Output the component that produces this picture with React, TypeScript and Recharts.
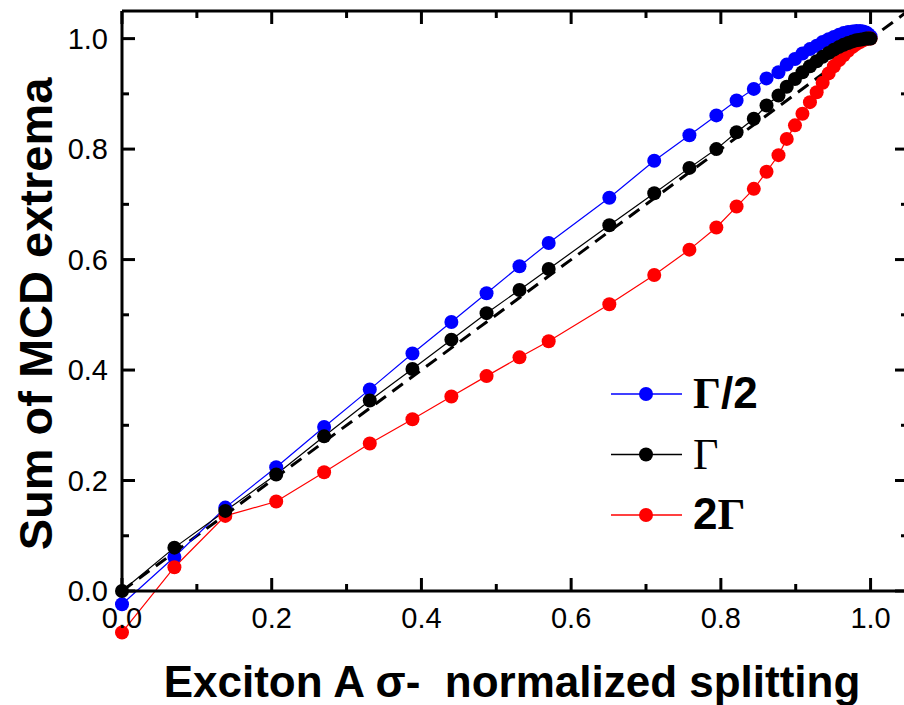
import { LineChart, Line, XAxis, YAxis, Legend } from "recharts";

// normalized splitting (shared by all three curves)
const xs = [
  0, 0.07, 0.138, 0.206, 0.27, 0.331, 0.388, 0.44, 0.487, 0.531, 0.57, 0.651,
  0.711, 0.758, 0.794, 0.821, 0.844, 0.861, 0.877, 0.888, 0.899, 0.909, 0.919,
  0.928, 0.936, 0.944, 0.951, 0.958, 0.964, 0.97, 0.976, 0.981, 0.986, 0.99,
  0.994, 0.997, 1.0,
];

const halfGamma = [
  -0.024, 0.0615, 0.151, 0.224, 0.297, 0.365, 0.43, 0.487, 0.539, 0.588, 0.63,
  0.712, 0.779, 0.825, 0.861, 0.888, 0.909, 0.928, 0.939, 0.953, 0.963, 0.973,
  0.981, 0.987, 0.994, 0.999, 1.003, 1.007, 1.01, 1.012, 1.013, 1.014, 1.014,
  1.013, 1.011, 1.008, 1.004,
];

const gamma = [
  0, 0.0785, 0.145, 0.211, 0.28, 0.345, 0.402, 0.455, 0.503, 0.545, 0.583,
  0.662, 0.72, 0.766, 0.8, 0.8305, 0.855, 0.879, 0.897, 0.913, 0.927, 0.939,
  0.95, 0.959, 0.967, 0.974, 0.98, 0.985, 0.989, 0.992, 0.995, 0.997, 0.998,
  0.999, 1.0, 1.0, 1.0,
];

const twoGamma = [
  -0.075, 0.043, 0.136, 0.162, 0.215, 0.267, 0.311, 0.352, 0.389, 0.423, 0.452,
  0.519, 0.572, 0.618, 0.658, 0.696, 0.728, 0.759, 0.789, 0.8185, 0.843, 0.864,
  0.885, 0.903, 0.92, 0.937, 0.95, 0.961, 0.97, 0.978, 0.985, 0.99, 0.994,
  0.997, 0.999, 1.0, 1.0,
];

// y = x guide
const diagonalX = [0, 1.05];

const tickValues = [0, 0.1, 0.2, 0.3, 0.4, 0.5, 0.6, 0.7, 0.8, 0.9, 1.0];

const FONT = '"Liberation Sans", Arial, Helvetica, sans-serif';
const SERIF = '"Liberation Serif", "Times New Roman", serif';

const toPoints = (ys: number[]) => xs.map((x, i) => ({ x, y: ys[i] }));
const diagonal = diagonalX.map((x) => ({ x, y: x }));

const series = [
  { key: "half", name: "Γ/2", color: "#0000ff", values: halfGamma, gammaBold: true },
  { key: "one", name: "Γ", color: "#000000", values: gamma, gammaBold: false },
  { key: "two", name: "2Γ", color: "#ff0000", values: twoGamma, gammaBold: true },
];
// black drawn last, it sits on top of the others in the original
const drawOrder = [series[0], series[2], series[1]];

const isMajor = (v: number) => Math.round(v * 10) % 2 === 0;
const tickLen = (v: number) => (isMajor(v) ? 13 : 7);

function renderBottomTick(props: any) {
  const { x, y, payload } = props;
  const v = payload.value as number;
  return (
    <g>
      <line x1={x} x2={x} y1={y} y2={y - tickLen(v)} stroke="#000" strokeWidth={3} />
      {isMajor(v) && (
        <text x={x} y={y + 37} textAnchor="middle" fontSize={29} fontFamily={FONT} fill="#000">
          {v.toFixed(1)}
        </text>
      )}
    </g>
  );
}

function renderTopTick(props: any) {
  const { x, y, payload } = props;
  return <line x1={x} x2={x} y1={y} y2={y + tickLen(payload.value)} stroke="#000" strokeWidth={3} />;
}

function renderLeftTick(props: any) {
  const { x, y, payload } = props;
  const v = payload.value as number;
  return (
    <g>
      <line x1={x} x2={x + tickLen(v)} y1={y} y2={y} stroke="#000" strokeWidth={3} />
      {isMajor(v) && (
        <text x={x - 14} y={y + 10} textAnchor="end" fontSize={29} fontFamily={FONT} fill="#000">
          {v.toFixed(1)}
        </text>
      )}
    </g>
  );
}

function renderRightTick(props: any) {
  const { x, y, payload } = props;
  return <line x1={x} x2={x - tickLen(payload.value)} y1={y} y2={y} stroke="#000" strokeWidth={3} />;
}

const renderXTitle = () => (
  <text
    x={512}
    y={697}
    textAnchor="middle"
    fontSize={44}
    fontWeight="bold"
    fontFamily={FONT}
    fill="#000"
    style={{ whiteSpace: "pre" }}
  >
    {"Exciton A σ-  normalized splitting"}
  </text>
);

const renderYTitle = () => (
  <text
    x={52}
    y={314}
    transform="rotate(-90 52 314)"
    textAnchor="middle"
    fontSize={47}
    fontWeight="bold"
    fontFamily={FONT}
    fill="#000"
  >
    Sum of MCD extrema
  </text>
);

function renderLegend() {
  return (
    <svg width={220} height={180} style={{ display: "block" }}>
      {series.map((s, i) => {
        const cy = 34 + i * 60.5;
        return (
          <g key={s.key}>
            <line x1={11} x2={82} y1={cy} y2={cy} stroke={s.color} strokeWidth={1.5} />
            <circle cx={46} cy={cy} r={7} fill={s.color} />
            <text x={93} y={cy + 14} fontSize={44} fontWeight="bold" fontFamily={FONT} fill="#000">
              {s.name.split("").map((ch, j) =>
                ch === "Γ" ? (
                  <tspan key={j} fontFamily={SERIF} fontWeight={s.gammaBold ? "bold" : "normal"}>
                    {ch}
                  </tspan>
                ) : (
                  <tspan key={j}>{ch}</tspan>
                )
              )}
            </text>
          </g>
        );
      })}
    </svg>
  );
}

const axisLine = { stroke: "#000", strokeWidth: 3 };

export default function App() {
  return (
    <div
      className="mcd-chart"
      style={{ position: "absolute", left: 0, top: 0, width: 904, height: 705, overflow: "hidden", background: "#fff" }}
    >
      <style>{`.mcd-chart [clip-path]{clip-path:none !important}`}</style>
      <LineChart width={920} height={705} margin={{ top: 0, right: 0, bottom: 0, left: 0 }}>
        <XAxis
          xAxisId="bottom"
          type="number"
          dataKey="x"
          domain={[0, 1.05]}
          allowDataOverflow
          ticks={tickValues}
          interval={0}
          height={114}
          tickSize={0}
          tickMargin={0}
          tickLine={false}
          tick={renderBottomTick}
          axisLine={axisLine}
          label={renderXTitle}
        />
        <XAxis
          xAxisId="top"
          orientation="top"
          type="number"
          dataKey="x"
          domain={[0, 1.05]}
          allowDataOverflow
          ticks={tickValues}
          interval={0}
          height={11}
          tickSize={0}
          tickMargin={0}
          tickLine={false}
          tick={renderTopTick}
          axisLine={axisLine}
        />
        <YAxis
          yAxisId="left"
          type="number"
          domain={[0, 1.05]}
          allowDataOverflow
          ticks={tickValues}
          interval={0}
          width={122}
          tickSize={0}
          tickMargin={0}
          tickLine={false}
          tick={renderLeftTick}
          axisLine={axisLine}
          label={renderYTitle}
        />
        <YAxis
          yAxisId="right"
          orientation="right"
          type="number"
          domain={[0, 1.05]}
          allowDataOverflow
          ticks={tickValues}
          interval={0}
          width={12}
          tickSize={0}
          tickMargin={0}
          tickLine={false}
          tick={renderRightTick}
          axisLine={axisLine}
        />
        <Line
          xAxisId="top"
          yAxisId="right"
          data={diagonal}
          dataKey="y"
          stroke="#000"
          strokeWidth={3}
          strokeDasharray="13 8"
          dot={false}
          activeDot={false}
          legendType="none"
          isAnimationActive={false}
        />
        {drawOrder.map((s) => (
          <Line
            key={s.key}
            xAxisId="bottom"
            yAxisId="left"
            data={toPoints(s.values)}
            dataKey="y"
            name={s.name}
            stroke={s.color}
            strokeWidth={1.2}
            dot={{ r: 7, fill: s.color, stroke: "none" }}
            activeDot={false}
            isAnimationActive={false}
          />
        ))}
        <Legend
          layout="vertical"
          align="center"
          verticalAlign="middle"
          content={renderLegend}
          wrapperStyle={{ left: 600, top: 360, width: 220, height: 180 }}
        />
      </LineChart>
    </div>
  );
}
